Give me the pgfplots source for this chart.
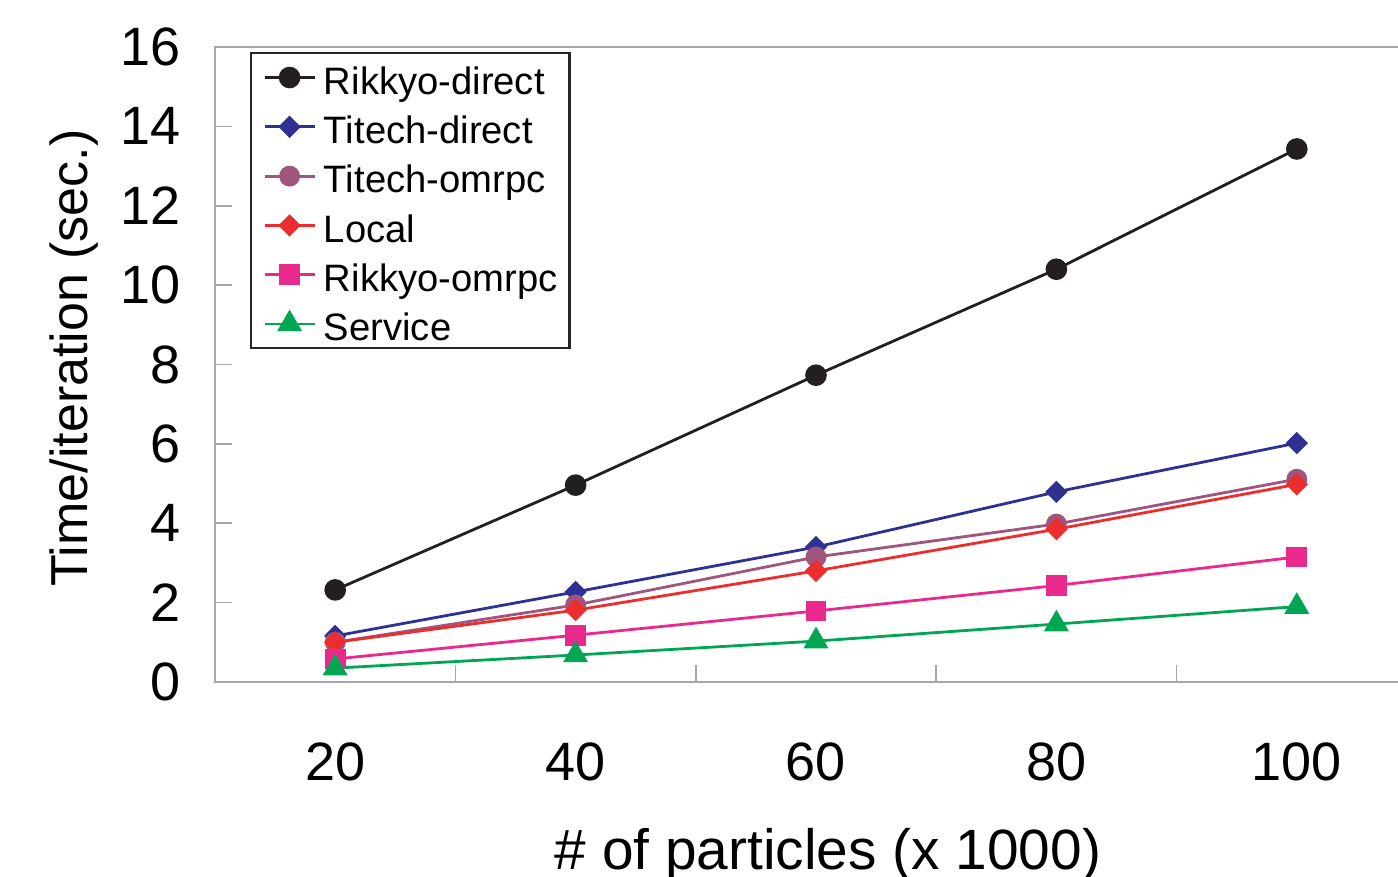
\documentclass[border=0pt]{standalone}
\usepackage{fontspec}
\setmainfont{Liberation Sans}
\usepackage{pgfplots}
\pgfplotsset{compat=1.18}
\definecolor{cBlack}{HTML}{231F20}
\definecolor{cBlue}{HTML}{2E3192}
\definecolor{cMauve}{HTML}{A0557D}
\definecolor{cRed}{HTML}{EB2D2D}
\definecolor{cPink}{HTML}{E92A8C}
\definecolor{cGreen}{HTML}{00A651}
\begin{document}
\begin{tikzpicture}
\begin{axis}[
  at={(107.5pt,97.5pt)}, anchor=south west,
  scale only axis, width=601pt, height=317.5pt,
  xmin=10, xmax=110, ymin=0, ymax=16,
  axis line style={gray!70, line width=1pt},
  tick align=inside, major tick length=8.5pt,
  tick style={gray!70, line width=0.8pt},
  xtick={30,50,70,90}, xticklabels={},
  extra x ticks={20,40,60,80,100},
  extra x tick style={major tick length=0pt},
  ytick={0,2,...,16}, ytick pos=left, xtick pos=bottom,
  ticklabel style={font=\fontsize{27}{31}\selectfont},
  /pgf/number format/assume math mode=true,
  yticklabel style={xshift=-13.5pt},
  xticklabel style={yshift=-27pt},
  xlabel={\# of particles (x 1000)},
  xlabel style={font=\fontsize{28.4}{32}\selectfont, at={(axis cs:60,0)}, anchor=base, yshift=-94pt, xshift=6pt},
  ylabel={Time/iteration (sec.)},
  ylabel style={font=\fontsize{26}{30}\selectfont, at={(axis description cs:-0.1057,0.51)}, anchor=base, rotate=0},
  legend cell align=left,
  legend image code/.code={\draw[mark repeat=2,mark phase=2] plot coordinates {(0pt,0pt) (12.5pt,0pt) (25pt,0pt)};},
  legend style={at={(axis description cs:0.0291,0.992)}, anchor=north west,
    draw=black!85, line width=1.2pt, fill=white,
    font=\fontsize{19.1}{23}\selectfont,
    inner xsep=6pt, inner ysep=2pt, row sep=4.4pt,
    nodes={inner sep=0pt, text height=18.5pt, text depth=1.75pt},
    /tikz/every odd column/.append style={column sep=4pt}},
]
\addplot[cBlack, line width=1.4pt, mark=*, mark size=4.7pt, mark options={fill=cBlack}]
  coordinates {(20,2.32) (40,4.96) (60,7.73) (80,10.4) (100,13.43)};
\addlegendentry{Rikkyo-direct}
\addplot[cBlue, line width=1.4pt, mark=diamond*, mark size=4.6pt, mark options={fill=cBlue, xscale=1.33}]
  coordinates {(20,1.16) (40,2.27) (60,3.40) (80,4.79) (100,6.02)};
\addlegendentry{Titech-direct}
\addplot[cMauve, line width=1.4pt, mark=*, mark size=4.5pt, mark options={fill=cMauve}]
  coordinates {(20,1.0) (40,1.94) (60,3.15) (80,3.98) (100,5.11)};
\addlegendentry{Titech-omrpc}
\addplot[cRed, line width=1.4pt, mark=diamond*, mark size=4.6pt, mark options={fill=cRed, xscale=1.33}]
  coordinates {(20,1.0) (40,1.81) (60,2.80) (80,3.85) (100,4.98)};
\addlegendentry{Local}
\addplot[cPink, line width=1.4pt, mark=square*, mark size=4.5pt, mark options={fill=cPink}]
  coordinates {(20,0.58) (40,1.18) (60,1.79) (80,2.43) (100,3.15)};
\addlegendentry{Rikkyo-omrpc}
\addplot[cGreen, line width=1.4pt, mark=triangle*, mark size=5.8pt, mark options={fill=cGreen}]
  coordinates {(20,0.35) (40,0.68) (60,1.03) (80,1.46) (100,1.90)};
\addlegendentry{Service}
\end{axis}
\pgfresetboundingbox
\useasboundingbox (0,0) rectangle (699pt,438.5pt);
\end{tikzpicture}
\end{document}
